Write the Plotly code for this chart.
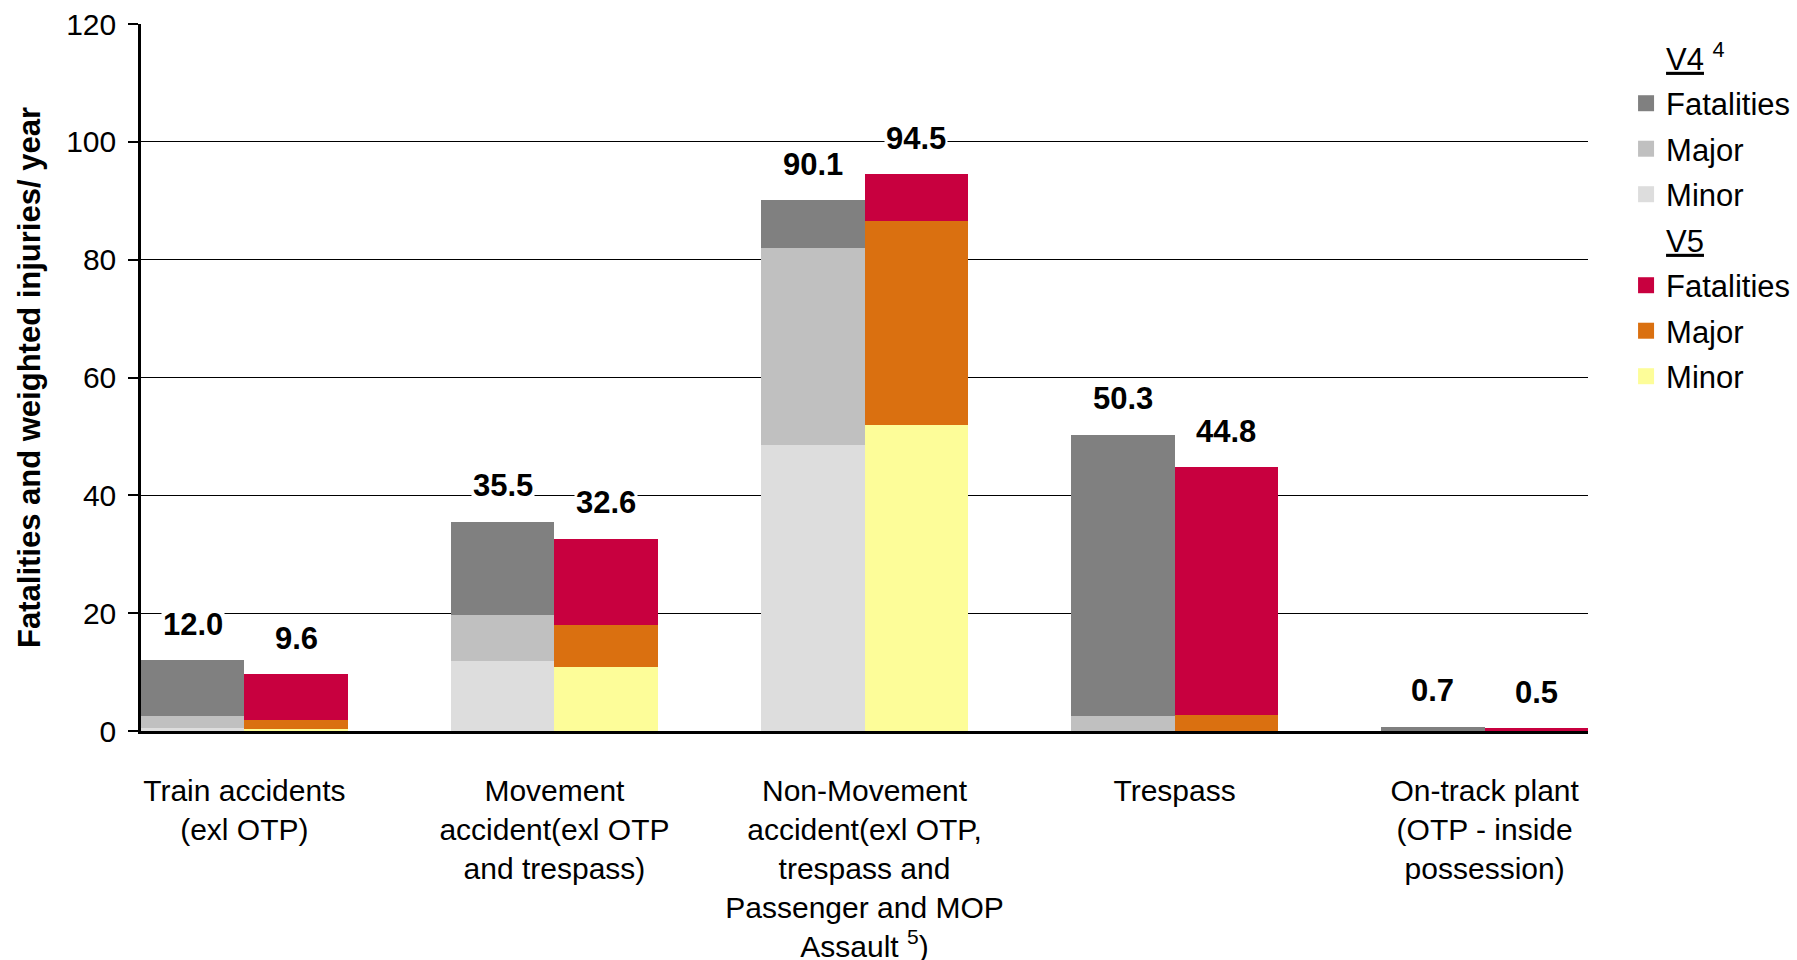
import plotly.graph_objects as go

categories = [
    "Train accidents<br>(exl OTP)",
    "Movement<br>accident(exl OTP<br>and trespass)",
    "Non-Movement<br>accident(exl OTP,<br>trespass and<br>Passenger and MOP<br>Assault <sup>5</sup>)",
    "Trespass",
    "On-track plant<br>(OTP - inside<br>possession)",
]

v4_minor = [0.5, 11.9, 48.5, 0.0, 0.0]
v4_major = [2.1, 7.8, 33.4, 2.5, 0.0]
v4_fatal = [9.4, 15.8, 8.2, 47.8, 0.7]
v4_total = [12.0, 35.5, 90.1, 50.3, 0.7]

v5_minor = [0.3, 10.9, 51.9, 0.0, 0.0]
v5_major = [1.6, 7.1, 34.6, 2.7, 0.0]
v5_fatal = [7.7, 14.6, 8.0, 42.1, 0.5]
v5_total = [9.6, 32.6, 94.5, 44.8, 0.5]

y_ticks = [0, 20, 40, 60, 80, 100, 120]

colors_v4 = {"Fatalities": "#808080", "Major": "#C0C0C0", "Minor": "#DDDDDD"}
colors_v5 = {"Fatalities": "#C8003F", "Major": "#DA7010", "Minor": "#FDFD99"}

FONT = "Liberation Sans, Arial, sans-serif"
W = 1 / 3
idx = list(range(len(categories)))
x4 = [i - W / 2 for i in idx]
x5 = [i + W / 2 for i in idx]

fig = go.Figure()

for name, vals in (("Minor", v4_minor), ("Major", v4_major), ("Fatalities", v4_fatal)):
    fig.add_trace(go.Bar(x=x4, y=vals, width=W, marker=dict(color=colors_v4[name], line=dict(width=0)),
                         showlegend=False, name="V4 " + name))
for name, vals in (("Minor", v5_minor), ("Major", v5_major), ("Fatalities", v5_fatal)):
    fig.add_trace(go.Bar(x=x5, y=vals, width=W, marker=dict(color=colors_v5[name], line=dict(width=0)),
                         showlegend=False, name="V5 " + name))

# legend entries (each in its own group so tracegroupgap sets the row spacing)
legend_count = [0]


def legend_entry(name, color, opacity=1.0):
    legend_count[0] += 1
    fig.add_trace(go.Scatter(x=[None], y=[None], mode="markers", name=name,
                             legendgroup=f"g{legend_count[0]}",
                             marker=dict(symbol="square", size=18, color=color, opacity=opacity),
                             showlegend=True))


legend_entry("<u>V4</u> <sup>4</sup>", "white", 0)
for n in ("Fatalities", "Major", "Minor"):
    legend_entry(n, colors_v4[n])
legend_entry("<u>V5</u>", "white", 0)
for n in ("Fatalities", "Major", "Minor"):
    legend_entry(n, colors_v5[n])

for xs, tots in ((x4, v4_total), (x5, v5_total)):
    for xv, t in zip(xs, tots):
        fig.add_annotation(x=xv, y=t, text=f"<b>{t:.1f}</b>", showarrow=False,
                           yanchor="middle", yshift=36, bgcolor="white",
                           font=dict(family=FONT, size=31, color="black"))

fig.update_layout(
    width=1797, height=960, autosize=False,
    margin=dict(l=141, r=209, t=24, b=229, autoexpand=False),
    paper_bgcolor="white", plot_bgcolor="white",
    barmode="relative", bargap=0,
    font=dict(family=FONT, size=30, color="black"),
    showlegend=True,
    legend=dict(x=1.0263, xanchor="left", y=0.99, yanchor="top",
                font=dict(family=FONT, size=31, color="black"),
                traceorder="grouped", tracegroupgap=2.2,
                bgcolor="rgba(0,0,0,0)", itemclick=False),
)

fig.update_xaxes(range=[-1 / 3, len(categories) - 1 + 1 / 3], tickvals=idx, ticktext=categories,
                 showgrid=False, zeroline=False, showline=True, linewidth=3, linecolor="black",
                 ticks="", ticklabelstandoff=31, automargin=False,
                 tickfont=dict(family=FONT, size=30, color="black"))
fig.update_yaxes(range=[0, 120], tickvals=y_ticks, showgrid=True, gridcolor="black", gridwidth=1,
                 zeroline=False, showline=True, linewidth=2.5, linecolor="black",
                 ticks="outside", ticklen=10, tickwidth=1.5, tickcolor="black",
                 ticklabelstandoff=6, automargin=False,
                 tickfont=dict(family=FONT, size=30, color="black"),
                 title=dict(text="<b>Fatalities and weighted injuries/ year</b>", standoff=17,
                            font=dict(family=FONT, size=31, color="black")))

fig.write_html("out.html")
